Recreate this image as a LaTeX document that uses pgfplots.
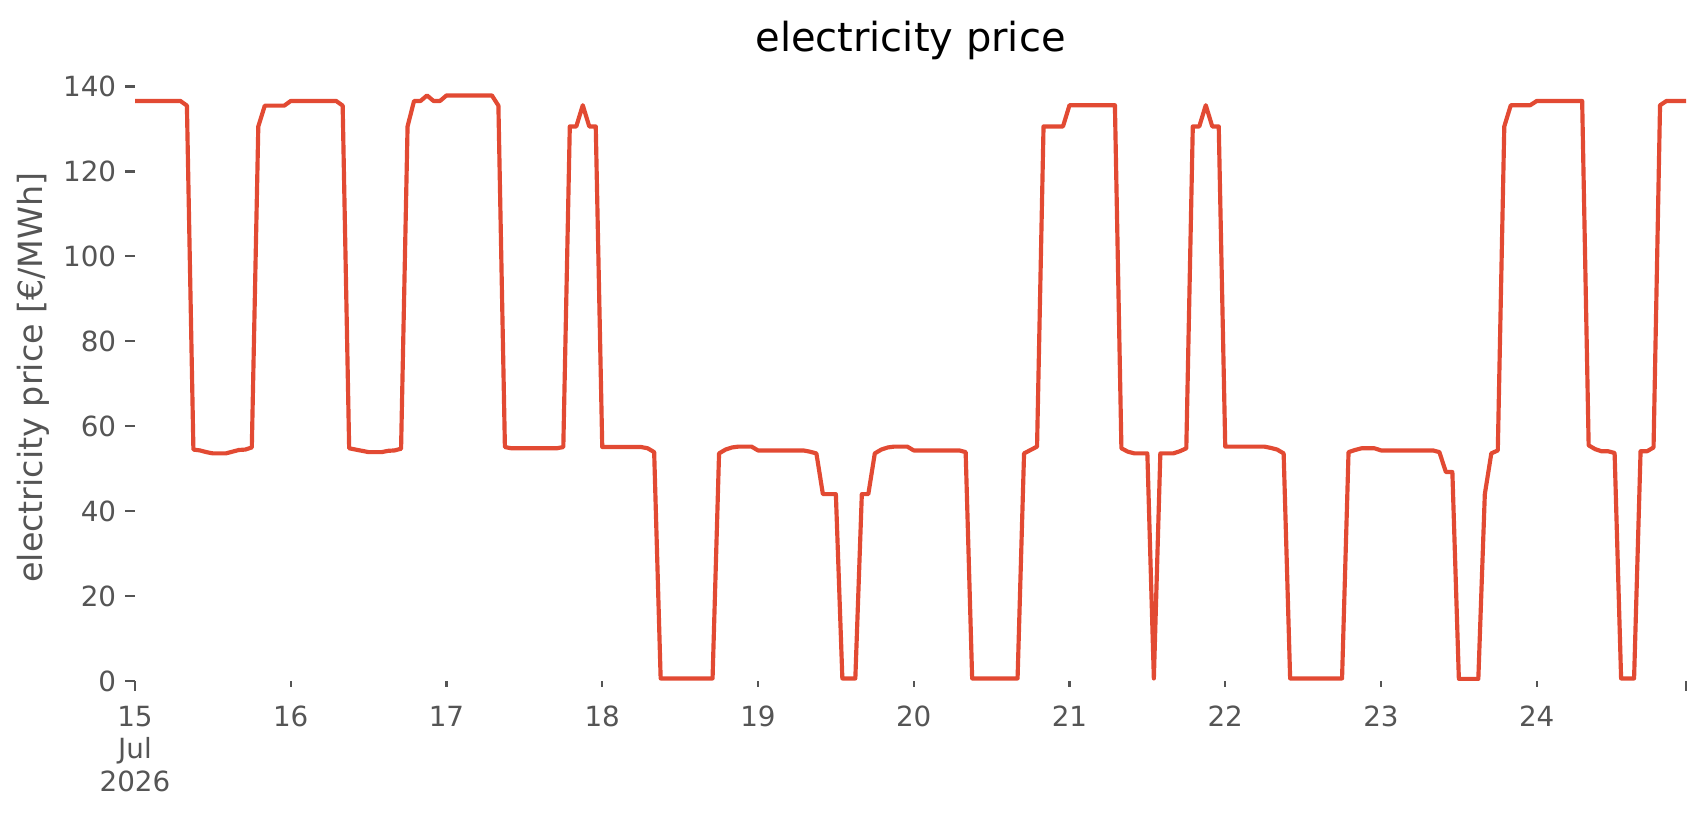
\documentclass[border=0pt]{standalone}
\usepackage{fontspec}
\setmainfont{DejaVu Sans}
\usepackage{pgfplots}
\pgfplotsset{compat=1.18}
\usepackage{pgfplotstable}
\definecolor{tickgray}{HTML}{555555}
\definecolor{priceline}{HTML}{E24A33}
\pgfplotstableread{
h p
0 136.6
1 136.6
2 136.6
3 136.6
4 136.6
5 136.6
6 136.6
7 136.6
8 135.5
9 54.5
10 54.3
11 53.9
12 53.6
13 53.6
14 53.6
15 54.0
16 54.4
17 54.5
18 55.0
19 130.6
20 135.5
21 135.5
22 135.5
23 135.5
24 136.6
25 136.6
26 136.6
27 136.6
28 136.6
29 136.6
30 136.6
31 136.6
32 135.5
33 54.8
34 54.5
35 54.2
36 53.9
37 53.9
38 53.9
39 54.2
40 54.3
41 54.7
42 130.6
43 136.6
44 136.6
45 137.9
46 136.6
47 136.6
48 137.9
49 137.9
50 137.9
51 137.9
52 137.9
53 137.9
54 137.9
55 137.9
56 135.5
57 55.1
58 54.8
59 54.8
60 54.8
61 54.8
62 54.8
63 54.8
64 54.8
65 54.8
66 55.1
67 130.6
68 130.6
69 135.6
70 130.6
71 130.6
72 55.1
73 55.1
74 55.1
75 55.1
76 55.1
77 55.1
78 55.1
79 54.8
80 53.9
81 0.6
82 0.6
83 0.6
84 0.6
85 0.6
86 0.6
87 0.6
88 0.6
89 0.6
90 53.6
91 54.5
92 55.0
93 55.2
94 55.2
95 55.2
96 54.3
97 54.3
98 54.3
99 54.3
100 54.3
101 54.3
102 54.3
103 54.3
104 54.0
105 53.6
106 44.0
107 44.0
108 44.0
109 0.6
110 0.6
111 0.6
112 44.0
113 44.0
114 53.6
115 54.5
116 55.0
117 55.2
118 55.2
119 55.2
120 54.3
121 54.3
122 54.3
123 54.3
124 54.3
125 54.3
126 54.3
127 54.3
128 53.9
129 0.6
130 0.6
131 0.6
132 0.6
133 0.6
134 0.6
135 0.6
136 0.6
137 53.6
138 54.4
139 55.2
140 130.6
141 130.6
142 130.6
143 130.6
144 135.6
145 135.6
146 135.6
147 135.6
148 135.6
149 135.6
150 135.6
151 135.6
152 54.8
153 54.0
154 53.6
155 53.6
156 53.6
157 0.6
158 53.6
159 53.6
160 53.6
161 54.1
162 54.8
163 130.6
164 130.6
165 135.6
166 130.6
167 130.6
168 55.2
169 55.2
170 55.2
171 55.2
172 55.2
173 55.2
174 55.2
175 54.9
176 54.5
177 53.6
178 0.6
179 0.6
180 0.6
181 0.6
182 0.6
183 0.6
184 0.6
185 0.6
186 0.6
187 53.9
188 54.4
189 54.8
190 54.8
191 54.8
192 54.3
193 54.3
194 54.3
195 54.3
196 54.3
197 54.3
198 54.3
199 54.3
200 54.3
201 53.9
202 49.2
203 49.2
204 0.5
205 0.5
206 0.5
207 0.5
208 44.0
209 53.6
210 54.3
211 130.6
212 135.6
213 135.6
214 135.6
215 135.6
216 136.6
217 136.6
218 136.6
219 136.6
220 136.6
221 136.6
222 136.6
223 136.6
224 55.5
225 54.6
226 54.1
227 54.1
228 53.7
229 0.6
230 0.6
231 0.6
232 54.1
233 54.1
234 55.0
235 135.6
236 136.6
237 136.6
238 136.6
239 136.6
}\pricetable

\begin{document}
\begin{tikzpicture}
\path[use as bounding box] (0,0) rectangle (614.16pt,293.4pt);
\begin{axis}[
  at={(48.6pt,48.24pt)}, anchor=south west,
  scale only axis, width=558.36pt, height=219.35pt,
  xmin=0, xmax=239, ymin=0, ymax=143.5,
  axis line style={draw=none},
  tick align=outside, tick pos=left,
  major tick length=3.5pt,
  tick style={draw=tickgray, line width=0.8pt},
  xtick={0,239}, xticklabels={},
  extra x ticks={0,24,48,72,96,120,144,168,192,216},
  extra x tick labels={{15\\Jul\\2026},16,17,18,19,20,21,22,23,24},
  extra x tick style={major tick length=2pt},
  ytick={0,20,40,60,80,100,120,140},
  ticklabel style={font=\fontsize{10}{11.7}\selectfont, text=tickgray},
  xticklabel style={align=center, anchor=north, inner sep=0pt, yshift=-6.8pt},
  yticklabel style={anchor=east, inner sep=0pt, xshift=-3.1pt},
  /pgf/number format/assume math mode=true,
  scaled y ticks=false,
  clip=false,
]
\addplot[priceline, line width=1.5pt, line join=round] table[x=h,y=p] {\pricetable};
\end{axis}
\node[rotate=90, anchor=base, text=tickgray, font=\fontsize{12}{14}\selectfont] at (15.3pt,157.5pt) {electricity price [€/MWh]};
\node[anchor=base, font=\fontsize{14.4}{17}\selectfont] at (327.8pt,275.0pt) {electricity price};
\end{tikzpicture}
\end{document}
